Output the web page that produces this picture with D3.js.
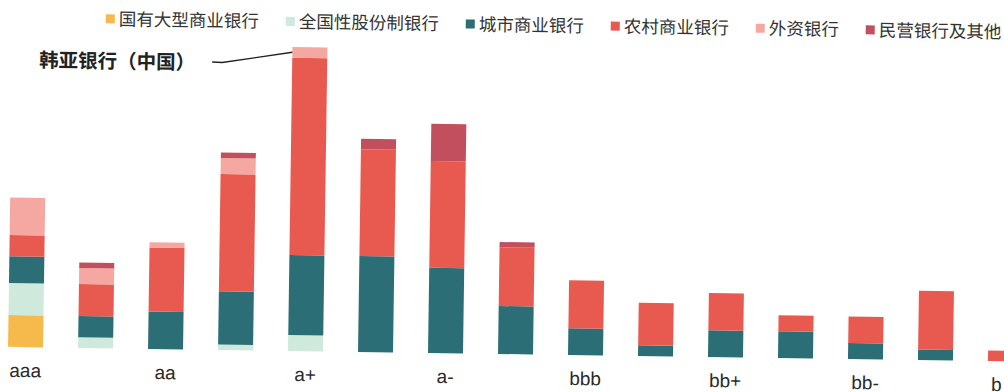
<!DOCTYPE html>
<html>
<head>
<meta charset="utf-8">
<script src="https://cdn.jsdelivr.net/npm/d3@7"></script>
<style>
  html, body { margin: 0; padding: 0; background: #fff; overflow: hidden; }
  svg { display: block; }
</style>
</head>
<body>
<svg id="chart" width="1004" height="392"></svg>
<script>
// Number of banks per credit rating, split by bank type
const categories = ["aaa","aa+","aa","aa-","a+","a","a-","bbb+","bbb","bbb-","bb+","bb","bb-","b+","b"];
const tickLabels = ["aaa","aa","a+","a-","bbb","bb+","bb-","b"];
const seriesNames = ["国有大型商业银行","全国性股份制银行","城市商业银行","农村商业银行","外资银行","民营银行及其他"];

const stateOwned      = [6,0,0,0,0,0,0,0,0,0,0,0,0,0,0];
const jointStock      = [6,2,0,1,3,0,0,0,0,0,0,0,0,0,0];
const cityCommercial  = [5,4,7,10,15,18,16,9,5,2,5,5,3,2,0];
const ruralCommercial = [4,6,12,22,37,20,20,11,9,8,7,3,5,11,2];
const foreignBanks    = [7,3,1,3,2,0,0,0,0,0,0,0,0,0,0];
const privateOther    = [0,1,0,1,0,2,7,1,0,0,0,0,0,0,0];

const seriesColors = ["#f6b94c","#cfe9dd","#2b6e76","#e85a50","#f4a8a1","#c24f5e"];

const annotationText = "韩亚银行（中国）";
const annotationCategory = "a+";
const annotationSeries = "外资银行";

// ---- table for d3.stack ----
const seriesValues = [stateOwned, jointStock, cityCommercial, ruralCommercial, foreignBanks, privateOther];
const table = categories.map((c, i) => {
  const row = { category: c };
  seriesNames.forEach((s, k) => { row[s] = seriesValues[k][i]; });
  return row;
});
const stacked = d3.stack().keys(seriesNames)(table);

// ---- layout ----
const width = 1004;
const svg = d3.select("#chart");
const baseY = 354;
const root = svg.append("g").attr("transform", `rotate(0.83 500 ${baseY})`);

const x = d3.scaleBand()
  .domain(categories)
  .range([-9.5, 1040.5])
  .paddingInner(0.5)
  .paddingOuter(0.25);

const y = d3.scaleLinear().domain([0, 60]).range([baseY, baseY - 320]);

const color = d3.scaleOrdinal().domain(seriesNames).range(seriesColors);

// ---- bars ----
root.append("g")
  .selectAll("g")
  .data(stacked)
  .join("g")
  .attr("fill", d => color(d.key))
  .selectAll("rect")
  .data(d => d.filter(p => p[1] - p[0] > 0))
  .join("rect")
  .attr("x", d => x(d.data.category))
  .attr("width", x.bandwidth())
  .attr("y", d => y(d[1]))
  .attr("height", d => y(d[0]) - y(d[1]));

// ---- category axis ----
const axis = root.append("g")
  .attr("transform", `translate(0,${baseY})`)
  .call(d3.axisBottom(x).tickValues(tickLabels).tickSize(0));
axis.select(".domain").remove();
axis.selectAll("text")
  .attr("y", 30)
  .attr("dy", 0)
  .attr("fill", "#2a2a2a")
  .style("font-family", "'Liberation Sans', Arial, sans-serif")
  .style("font-size", "19px");

// keep the right-most label inside the drawing area
axis.selectAll(".tick").each(function (d) {
  const t = d3.select(this).select("text");
  const half = t.node().getComputedTextLength() / 2;
  const cx = x(d) + x.bandwidth() / 2;
  if (cx + half > width - 2) {
    t.attr("text-anchor", "end").attr("x", (width - 2) - cx);
  }
});

// ---- legend ----
const legend = root.append("g").attr("transform", "translate(101,0)");
let cursor = 0;
seriesNames.forEach((name, k) => {
  const item = legend.append("g").attr("transform", `translate(${cursor},0)`);
  item.append("rect")
    .attr("x", 0).attr("y", 20)
    .attr("width", 9).attr("height", 9)
    .attr("fill", seriesColors[k]);
  const t = item.append("text")
    .attr("x", 13).attr("y", 31)
    .attr("fill", "#333")
    .style("font-family", "'Noto Sans CJK SC', sans-serif")
    .style("font-size", "17.5px")
    .text(name);
  cursor += 13 + t.node().getComputedTextLength() + 27;
});

// ---- annotation ----
const note = root.append("text")
  .attr("x", 35).attr("y", 73.8)
  .attr("fill", "#222")
  .style("font-family", "'Noto Sans CJK SC', sans-serif")
  .style("font-size", "19.5px")
  .style("font-weight", "bold")
  .text(annotationText);

const noteEnd = 35 + note.node().getComputedTextLength();
const target = stacked.find(s => s.key === annotationSeries)
  .find(p => p.data.category === annotationCategory);
const tx = x(annotationCategory);
const ty = y((target[0] + target[1]) / 2);
const lineStart = noteEnd + 17;

root.append("path")
  .attr("d", d3.line()([[lineStart, 66.2], [lineStart + 10, 66.6], [tx, ty]]))
  .attr("fill", "none")
  .attr("stroke", "#222")
  .attr("stroke-width", 1.4);
</script>
</body>
</html>
